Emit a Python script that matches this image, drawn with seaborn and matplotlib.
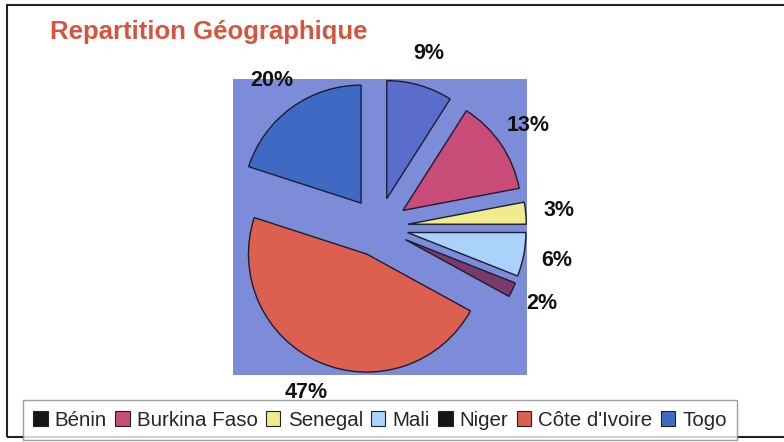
import matplotlib
matplotlib.use("Agg")
import matplotlib.pyplot as plt
import seaborn as sns
from matplotlib.patches import Patch, Rectangle

# Data
countries = ["Bénin", "Burkina Faso", "Senegal", "Mali", "Niger", "Côte d'Ivoire", "Togo"]
shares = [9, 13, 3, 6, 2, 47, 20]

slice_colors = ["#5a6ccc", "#c84b78", "#f0eb8c", "#aad2fa", "#7a3a6a", "#dc5f50", "#3f6ac4"]
legend_colors = ["#151515", "#c84b78", "#f0eb8c", "#aad2fa", "#151515", "#dc5f50", "#3f6ac4"]

sns.set_theme(style="white")
plt.rcParams['font.family'] = ['Liberation Sans', 'DejaVu Sans']

fig = plt.figure(figsize=(7.84, 4.42), dpi=100)
ax = fig.add_axes([233 / 784, 1 - 375 / 442, 294 / 784, 296 / 442])

wedges, texts, autotexts = ax.pie(
    shares, colors=slice_colors, startangle=90, counterclock=False,
    explode=[0.25] * len(shares), radius=1.0,
    autopct='%d%%', pctdistance=1.28,
    wedgeprops=dict(edgecolor="#1c1c30", linewidth=1.0),
    textprops=dict(fontsize=15.5, fontweight='bold', color='#111111'),
)
# plot area background (pie() switches the frame off)
ax.set_frame_on(True)
ax.patch.set_visible(True)
ax.set_facecolor("#7d8cd8")
ax.set_xlim(-1.23, 1.255)
ax.set_ylim(-1.254, 1.254)
ax.set_aspect('auto')
for s in ax.spines.values():
    s.set_visible(False)
ax.set_xticks([])
ax.set_yticks([])

# Title
fig.text(50 / 784, 1 - 32 / 442, "Repartition Géographique", color="#d6553f",
         fontsize=18.5, fontweight='bold', ha='left', va='center')

# Legend along the bottom
handles = [Patch(facecolor=c, edgecolor='#222222', linewidth=0.8) for c in legend_colors]
leg = fig.legend(handles, countries, ncol=7, loc='center',
                 bbox_to_anchor=(380 / 784, 1 - 420 / 442),
                 fontsize=14.8, frameon=True, fancybox=False,
                 handlelength=0.7, handleheight=0.7, handletextpad=0.35,
                 columnspacing=0.4, borderpad=0.5, borderaxespad=0)
leg.get_frame().set_edgecolor('#888888')
leg.get_frame().set_linewidth(1.0)

# Outer chart frame
fig.patches.append(Rectangle((7 / 784, 1 - 437 / 442), 1.0, (437 - 5) / 442,
                             transform=fig.transFigure, fill=False,
                             edgecolor='#222222', linewidth=1.5))

fig.savefig("out.png", dpi=100)
